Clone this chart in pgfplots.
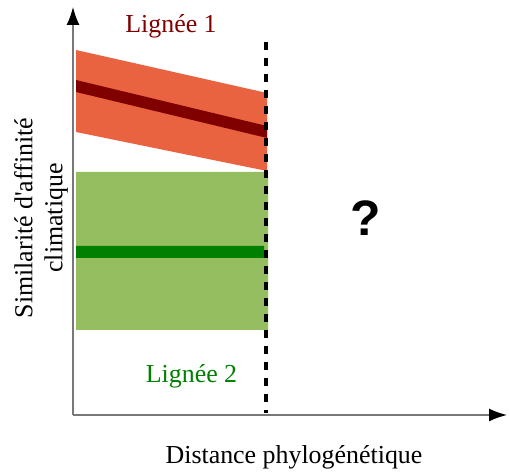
\documentclass[border=0pt]{standalone}
\usepackage{pgfplots}
\pgfplotsset{compat=1.18}
\usepackage{fontspec}
\setmainfont{Liberation Serif}
\newfontfamily\qfont{Liberation Sans}
\usetikzlibrary{arrows.meta}
\definecolor{bandred}{RGB}{234,99,64}
\definecolor{linered}{RGB}{128,0,0}
\definecolor{bandgreen}{RGB}{148,190,96}
\definecolor{linegreen}{RGB}{0,128,0}
\definecolor{axisgray}{RGB}{120,120,120}
\begin{document}
\begin{tikzpicture}
\begin{axis}[
  width=434bp, height=408bp, scale only axis,
  xmin=0, xmax=434, ymin=0, ymax=408,
  axis lines=left,
  xtick=\empty, ytick=\empty,
  axis line style={draw=axisgray, line width=1.6bp, -{Latex[length=18bp,width=13bp,color=black]}},
  clip=false,
  font=\fontsize{26}{30}\selectfont,
]
\path[use as bounding box] (axis cs:-73,-60) rectangle (axis cs:437,415);
% red band
\addplot[draw=none, fill=bandred] coordinates {(3,365) (194,322) (194,244) (3,283) (3,365)};
\addplot[draw=none, fill=linered] coordinates {(3,335) (194,289) (194,277) (3,323) (3,335)};
% green band
\addplot[draw=none, fill=bandgreen] coordinates {(3,243) (195,243) (195,85) (3,85) (3,243)};
\addplot[draw=none, fill=linegreen] coordinates {(3,169) (191,169) (191,157) (3,157) (3,169)};
% dashed line
\addplot[black, line width=4bp, dash pattern=on 8bp off 8bp] coordinates {(193,373) (193,2)};
% texts
\node[anchor=base, text=linered] at (axis cs:98,382) {Lignée 1};
\node[anchor=base, text=linegreen] at (axis cs:118.5,32) {Lignée 2};
\node[anchor=center] at (axis cs:293,197) {\qfont\bfseries\fontsize{50}{50}\selectfont ?};
\node[anchor=base] at (axis cs:221,-48) {Distance phylogénétique};
\node[rotate=90, align=center, anchor=center] at (axis cs:-32,197) {Similarité d\textquotesingle affinité\\climatique};
\end{axis}
\end{tikzpicture}
\end{document}
